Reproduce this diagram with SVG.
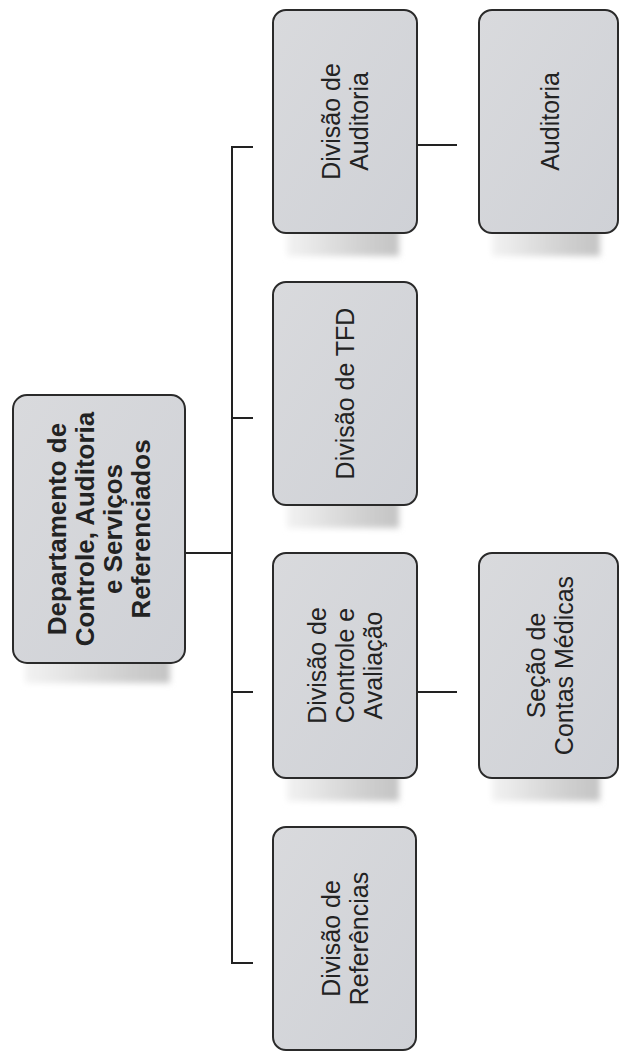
<svg xmlns="http://www.w3.org/2000/svg" width="620" height="1056" viewBox="0 0 620 1056">
<style>
.box{fill:url(#boxfill);stroke:#2a2a2a;stroke-width:2}
.sh{fill:url(#shfill);filter:url(#blur)}
.t{font-family:"Liberation Sans",Arial,sans-serif;font-size:25px;fill:#222;text-anchor:middle}
.tb{font-family:"Liberation Sans",Arial,sans-serif;font-size:26px;font-weight:bold;fill:#222;text-anchor:middle}
.ln{stroke:#222;stroke-width:2;fill:none}
.dt{stroke:#999;stroke-width:1.5;stroke-dasharray:2 2;fill:none}
</style>
<defs>
<linearGradient id="boxfill" x1="0" y1="0" x2="1" y2="1">
<stop offset="0" stop-color="#d9dadd"/>
<stop offset="1" stop-color="#cfd1d6"/>
</linearGradient>
<linearGradient id="shfill" x1="0" y1="0" x2="1" y2="0">
<stop offset="0" stop-color="#f2f2f2"/>
<stop offset="0.7" stop-color="#cfcfcf"/>
<stop offset="1" stop-color="#c4c4c4"/>
</linearGradient>
<filter id="blur" x="-20%" y="-50%" width="140%" height="200%">
<feGaussianBlur stdDeviation="3"/>
</filter>
</defs>
<rect width="620" height="1056" fill="#ffffff"/>
<g id="connectors">
<line class="ln" x1="232" y1="147" x2="232" y2="963"/>
<line class="ln" x1="231" y1="147" x2="253" y2="147"/>
<line class="ln" x1="232" y1="418" x2="253" y2="418"/>
<line class="ln" x1="232" y1="692" x2="253" y2="692"/>
<line class="ln" x1="231" y1="963" x2="253" y2="963"/>
<line class="ln" x1="185" y1="553" x2="232" y2="553"/>
<line class="dt" x1="166" y1="553" x2="185" y2="553"/>
<line class="ln" x1="417" y1="145" x2="457" y2="145"/>
<line class="dt" x1="393" y1="145" x2="417" y2="145"/>
<line class="ln" x1="417" y1="692" x2="457" y2="692"/>
<line class="dt" x1="393" y1="692" x2="417" y2="692"/>
</g>
<g id="root">
<rect class="sh" x="25" y="655" width="145" height="28"/>
<rect class="box" x="13" y="395" width="172" height="268" rx="14"/>
<text class="tb" transform="translate(99,529) rotate(-90)"><tspan x="0" y="-33">Departamento de</tspan><tspan x="0" y="-5">Controle, Auditoria</tspan><tspan x="0" y="23">e Serviços</tspan><tspan x="0" y="51">Referenciados</tspan></text>
</g>
<g id="div-auditoria">
<rect class="sh" x="287" y="226" width="112" height="30"/>
<rect class="box" x="273" y="10" width="144" height="223" rx="13"/>
<text class="t" transform="translate(345,121.5) rotate(-90)"><tspan x="0" y="-5">Divisão de</tspan><tspan x="0" y="23">Auditoria</tspan></text>
</g>
<g id="auditoria">
<rect class="sh" x="492" y="226" width="108" height="30"/>
<rect class="box" x="479" y="10" width="139" height="223" rx="13"/>
<text class="t" transform="translate(550,121.5) rotate(-90)"><tspan x="0" y="9">Auditoria</tspan></text>
</g>
<g id="div-tfd">
<rect class="sh" x="287" y="498" width="112" height="30"/>
<rect class="box" x="273" y="282" width="144" height="223" rx="13"/>
<text class="t" transform="translate(345,393.5) rotate(-90)"><tspan x="0" y="9">Divisão de TFD</tspan></text>
</g>
<g id="div-controle">
<rect class="sh" x="287" y="771" width="112" height="30"/>
<rect class="box" x="273" y="553" width="144" height="225" rx="13"/>
<text class="t" transform="translate(345,665.5) rotate(-90)"><tspan x="0" y="-19">Divisão de</tspan><tspan x="0" y="9">Controle e</tspan><tspan x="0" y="37">Avaliação</tspan></text>
</g>
<g id="secao-contas">
<rect class="sh" x="492" y="771" width="108" height="30"/>
<rect class="box" x="479" y="553" width="139" height="225" rx="13"/>
<text class="t" transform="translate(550,665.5) rotate(-90)"><tspan x="0" y="-5">Seção de</tspan><tspan x="0" y="23">Contas Médicas</tspan></text>
</g>
<g id="div-referencias">
<rect class="box" x="273" y="827" width="143" height="223" rx="13"/>
<text class="t" transform="translate(344.5,938.5) rotate(-90)"><tspan x="0" y="-5">Divisão de</tspan><tspan x="0" y="23">Referências</tspan></text>
</g>
</svg>
